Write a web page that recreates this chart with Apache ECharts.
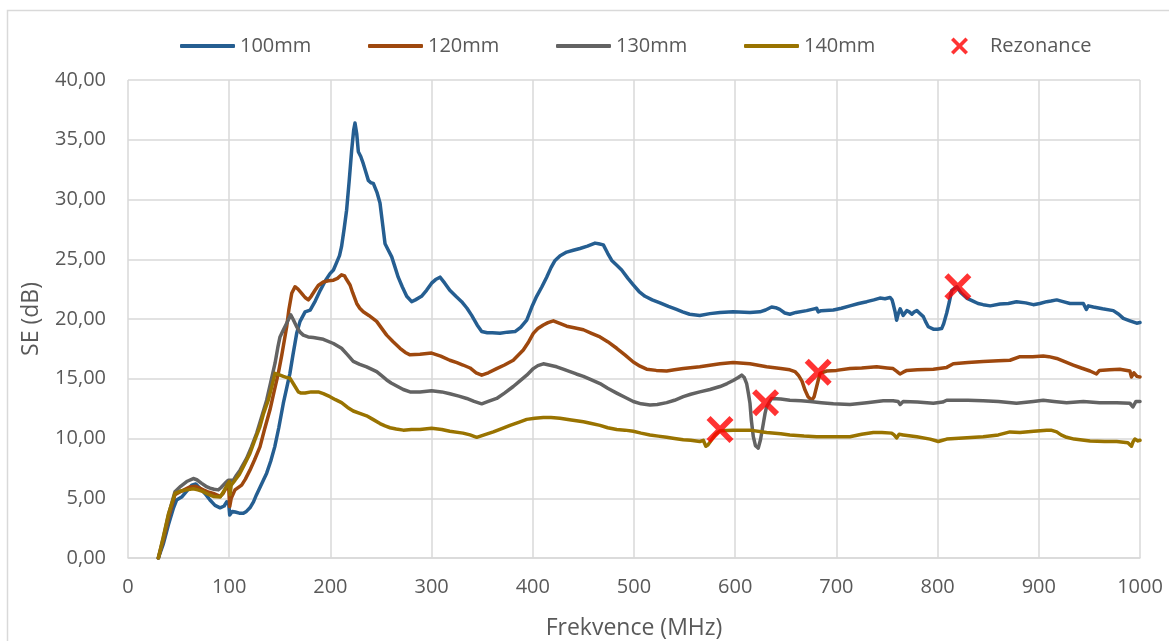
<!DOCTYPE html>
<html>
<head>
<meta charset="utf-8">
<script src="https://cdn.jsdelivr.net/npm/echarts@6/dist/echarts.min.js"></script>
<style>
  html, body { margin: 0; padding: 0; background: #ffffff; }
  #chart { width: 1169px; height: 641px; }
</style>
</head>
<body>
<div id="chart"></div>
<script>
// Shielding effectiveness SE (dB) vs frequency (MHz) for four enclosure sizes
const seriesNames = ['100mm', '120mm', '130mm', '140mm'];
const resonanceName = 'Rezonance';

const freq100 = [30,35,40,45,48,53,58,63,67,71,76,81,86,91,95,97.5,99.5,100.5,103,106,110,114,117,120.5,124,127,132,137,141,145,149,153.5,157,160,163,166.7,170,175,180,185,190,195,199.6,203,206,209,211,213.5,216,218.5,221,223,224.3,226,227.6,230,232.5,235,237.5,240,242.4,246,249,251.5,254,257,260.6,264,267,271,275.4,280.3,284,290,295,300,304,308.3,313,318,324,329.7,335,339.6,345,349.5,355,360,367.6,375,382.4,388,394,399,403.8,409,413.7,418,422,427,433.5,440,446.6,454,461.5,465,469.7,474,478,483,487.8,494,499.3,505,510.9,518,525.7,534,542,548,555,565,575,585,598,614.6,624.5,630,636,640,644,649,654,660,670.6,678,680.5,682,685,697,705,713.4,722,730,737,743,748,753,755,756,758,759.5,761,763,766,769.6,772,774.6,777,779.5,782,785.9,788,790.8,795.8,800,804,806,809,811.5,814,819,823,828.7,835,840,845,852,861.7,870,878,887,894.6,901,907.8,912,917.7,924,930.8,938,944,947,949,953.9,963,973.6,979,983.5,990,996.7,1000];
const se100 = [0,1.2,2.8,4.2,4.85,5.1,5.6,6.1,6.2,5.85,5.4,4.85,4.4,4.2,4.35,4.7,4.6,3.6,3.9,3.85,3.75,3.75,3.9,4.2,4.7,5.3,6.2,7.1,8.1,9.3,10.9,12.95,14.3,15.45,17,18.8,19.8,20.6,20.75,21.5,22.4,23.2,23.8,24.1,24.7,25.3,26.05,27.5,29.1,31.5,34.1,35.8,36.4,35.5,34.0,33.6,33.0,32.3,31.6,31.4,31.35,30.6,29.7,28.0,26.3,25.8,25.2,24.3,23.5,22.7,21.9,21.45,21.6,21.9,22.4,23.0,23.3,23.5,23.0,22.4,21.9,21.45,20.9,20.3,19.5,18.95,18.85,18.85,18.8,18.9,18.95,19.3,19.9,21.0,21.9,22.7,23.5,24.3,24.9,25.3,25.6,25.75,25.9,26.1,26.35,26.3,26.2,25.5,24.9,24.5,24.1,23.4,22.85,22.3,21.9,21.6,21.35,21.05,20.8,20.6,20.4,20.3,20.45,20.55,20.6,20.55,20.6,20.75,21.0,20.95,20.8,20.5,20.4,20.55,20.7,20.85,20.9,20.6,20.7,20.75,20.9,21.1,21.3,21.45,21.6,21.75,21.7,21.8,21.6,21.3,20.6,19.9,20.4,20.85,20.3,20.7,20.6,20.4,20.6,20.7,20.5,20.2,19.8,19.35,19.15,19.15,19.2,19.6,20.5,21.4,22.4,22.7,22.2,21.75,21.5,21.3,21.2,21.1,21.25,21.3,21.45,21.35,21.2,21.3,21.45,21.5,21.6,21.45,21.3,21.3,21.3,20.8,21.1,21.0,20.85,20.7,20.4,20.05,19.85,19.65,19.7];

const freq120 = [30,35,40,46.4,53,61.3,67,74.4,80,84.3,91,94,97.5,99.5,100.5,102,105.7,112.3,116,120.5,125,130.4,135,140.3,144,148.5,152,156.8,159,161.8,165,168,171.6,175,178.2,181,184.8,188,193,198,203,207,211,214,216,219.4,222,226,229,232.5,238,245.7,250,255.6,262,268.8,274,278.7,288.5,300,309,318,325,331,338,344,349.5,356,364.3,372,380.7,386,390.6,396,400.5,405,410.4,415,420.3,426,433.5,442,450,458,466.4,474,482.9,491,499.3,506,512.5,522,532.3,540,548.7,565,585,598,614.6,631,645,654,659,662.4,666,669,672,675.6,678,680.5,683.8,690.4,700,713.4,725,739.8,750,756,760,762.8,766,769.6,780,795.8,809,815.5,830,845,860,871.5,881.4,894,904.4,910,917.7,925,934,942,950.6,957,960,970,980,990,991.6,994,997,1000];
const se120 = [0,1.5,3.3,5.3,5.6,5.95,6.0,5.7,5.5,5.4,5.15,5.4,5.95,5.9,4.3,5.0,5.7,6.1,6.6,7.35,8.2,9.3,10.8,12.4,13.8,15.45,17.0,19.35,20.8,22.15,22.7,22.5,22.15,21.8,21.6,21.9,22.4,22.8,23.1,23.2,23.25,23.4,23.7,23.6,23.3,22.85,22.2,21.3,20.9,20.6,20.3,19.8,19.3,18.65,18.1,17.55,17.2,17.0,17.05,17.15,16.9,16.55,16.35,16.15,15.9,15.5,15.3,15.5,15.85,16.15,16.55,17.0,17.4,18.1,18.8,19.2,19.5,19.7,19.85,19.65,19.4,19.25,19.1,18.8,18.5,18.1,17.55,17.0,16.4,16.05,15.8,15.7,15.65,15.75,15.85,16.0,16.25,16.35,16.25,16.0,15.85,15.75,15.6,15.3,14.8,14.05,13.5,13.2,13.5,14.35,15.45,15.65,15.7,15.85,15.9,16.0,15.9,15.85,15.6,15.4,15.55,15.7,15.75,15.8,15.95,16.25,16.35,16.45,16.5,16.55,16.85,16.85,16.9,16.85,16.7,16.45,16.15,15.9,15.65,15.4,15.7,15.75,15.8,15.65,15.15,15.5,15.2,15.15];

const freq130 = [30,35,40,46.4,52,58,64.5,68,72.8,77,81,85,89.2,92,95.8,99,104,107,110.7,117.3,122,127.2,132,137,141,145.3,148,150.2,153,156.8,160.8,163,166.7,170,173.2,178,183.1,193,203,211,217,222.6,229,235.8,245.7,250,255.6,260,265.5,272,278.7,288.5,300,310,318,327,334.7,342,349.5,356,364.3,372,380.7,387,394,400.5,405,410.4,416,423.6,430,436.8,443,450,458,466.4,474,482.9,491,499.3,507,515.8,523,532.3,540,548.7,556,565,575,585,592,598,603,606.4,609,611.3,613,614.6,616,617.9,620,622.8,625,627.8,629.5,631,636,645,654,665,674,685,697,713.4,730,746.3,756,761,763,766,780,795.8,805,809,830,845,860,878,894.6,904.4,915,927.5,944,960,977,990,993,996,1000];
const se130 = [0,1.7,3.6,5.55,6.0,6.4,6.65,6.55,6.25,6.0,5.85,5.75,5.7,5.9,6.25,6.5,6.5,6.9,7.35,8.35,9.3,10.45,11.8,13.2,14.7,16.3,17.6,18.5,19.0,19.65,20.35,20.0,19.35,18.9,18.65,18.5,18.45,18.3,17.95,17.55,17.0,16.45,16.2,16.0,15.6,15.3,14.9,14.65,14.4,14.1,13.9,13.9,14.0,13.9,13.75,13.55,13.35,13.1,12.9,13.1,13.35,13.8,14.35,14.8,15.3,15.85,16.1,16.25,16.15,16.0,15.8,15.6,15.4,15.2,14.9,14.6,14.2,13.8,13.45,13.1,12.9,12.8,12.85,13.0,13.2,13.5,13.7,13.9,14.1,14.35,14.6,14.85,15.1,15.3,15.1,14.6,13.8,12.95,11.5,10.15,9.4,9.2,9.9,11.25,12.1,12.65,13.35,13.3,13.2,13.15,13.1,13.0,12.9,12.85,13.0,13.15,13.15,13.1,12.85,13.1,13.05,12.95,13.05,13.2,13.2,13.15,13.1,12.95,13.1,13.2,13.1,13.0,13.1,13.0,13.0,12.95,12.65,13.1,13.1];

const freq140 = [30,35,40,46.4,52,58,64.5,69,74.4,80,84.3,91,95.8,98.5,100.1,100.8,102,105.7,110,114,120.5,125,130.4,134,138.6,142,145.3,149,153.5,157,160,164,168.3,171,175,181,188,193,199.6,205,211,217,222.6,229,235.8,242,249,254,258.9,265,272,280,288.5,300,310,318,331,338,344.6,352,361,370,377.5,386,394,402,410.4,418,426.8,438,450,458,466.4,474,482.9,491,499.3,507,515.8,524,532.3,540,548.7,556,565,568.5,571,573,576.4,580,585,598,614.6,631,645,654,668,680.5,697,713.4,725,736.5,745,754.6,757,759.5,762,766,779.5,792.6,800.7,805,809,825,845,860,871.5,881.4,895,907.8,912,917.7,922,927.5,935,950.6,965,977,988,991.6,993,995,998,1000];
const se140 = [0,1.8,3.7,5.4,5.6,5.7,5.8,5.7,5.55,5.3,5.15,5.1,5.75,6.2,6.4,5.3,6.1,6.5,7.0,7.65,8.75,9.8,11.0,12.1,13.2,14.3,15.45,15.35,15.2,15.1,15.05,14.5,13.9,13.8,13.8,13.9,13.9,13.75,13.5,13.25,13.0,12.6,12.3,12.1,11.9,11.6,11.25,11.05,10.9,10.8,10.7,10.75,10.75,10.85,10.75,10.6,10.45,10.3,10.1,10.3,10.55,10.85,11.1,11.35,11.6,11.7,11.75,11.75,11.7,11.55,11.4,11.25,11.1,10.9,10.75,10.7,10.6,10.45,10.3,10.2,10.1,10.0,9.9,9.85,9.75,9.85,9.35,9.45,9.85,10.3,10.65,10.7,10.7,10.5,10.4,10.3,10.2,10.15,10.15,10.15,10.35,10.5,10.5,10.45,10.3,10.05,10.35,10.3,10.15,9.95,9.75,9.85,9.95,10.05,10.15,10.3,10.55,10.5,10.6,10.7,10.7,10.55,10.3,10.1,9.95,9.8,9.75,9.75,9.65,9.35,9.7,9.95,9.8,9.85];

// Resonance points marked with a cross
const rezFreq = [585, 630, 682, 820];
const rezSE = [10.75, 13.0, 15.55, 22.7];

// Axis ticks
const xTicks = { min: 0, max: 1000, step: 100 };
const yTicks = { min: 0, max: 40, step: 5 };

const seriesColors = ['#255E91', '#9E480E', '#636363', '#997300'];
const crossPath = 'path://M3,0 L10,7 L17,0 L20,3 L13,10 L20,17 L17,20 L10,13 L3,20 L0,17 L7,10 L0,3 Z';
const fontFamily = "'Open Sans', 'Noto Sans', sans-serif";
const textColor = '#595959';

function pairs(xs, ys) { return xs.map((x, i) => [x, ys[i]]); }

const lineData = [pairs(freq100, se100), pairs(freq120, se120), pairs(freq130, se130), pairs(freq140, se140)];

const legendLefts = [180, 368, 556, 744];
const legends = seriesNames.map((name, i) => ({
  data: [name],
  left: legendLefts[i],
  top: 36,
  padding: 0,
  icon: 'roundRect',
  itemWidth: 55,
  itemHeight: 4,
  selectedMode: false,
  textStyle: { fontFamily, fontSize: 20, color: textColor }
}));
legends.push({
  data: [resonanceName],
  left: 951,
  top: 36,
  padding: 0,
  icon: crossPath,
  itemWidth: 17,
  itemHeight: 17,
  selectedMode: false,
  textStyle: { fontFamily, fontSize: 20, color: textColor, padding: [0, 0, 0, 17] }
});

const chart = echarts.init(document.getElementById('chart'), null, { renderer: 'canvas' });
chart.setOption({
  backgroundColor: '#ffffff',
  animation: false,
  graphic: [{
    type: 'rect',
    shape: { x: 7.5, y: 10.5, width: 1300, height: 800 },
    style: { fill: 'none', stroke: '#d9d9d9', lineWidth: 1.5 },
    silent: true, z: -10
  }],
  legend: legends,
  grid: { left: 128, right: 29, top: 80, bottom: 83, containLabel: false, outerBoundsMode: 'none' },
  xAxis: {
    type: 'value',
    min: xTicks.min, max: xTicks.max, interval: xTicks.step,
    name: 'Frekvence (MHz)',
    nameLocation: 'middle',
    nameGap: 59,
    nameTextStyle: { fontFamily, fontSize: 23, color: textColor },
    axisLine: { show: true, lineStyle: { color: '#d9d9d9', width: 1.5 } },
    axisTick: { show: false },
    axisLabel: { fontFamily, fontSize: 20, color: textColor, margin: 19, formatter: v => String(v) },
    splitLine: { show: true, lineStyle: { color: '#d9d9d9', width: 1.5 } }
  },
  yAxis: {
    type: 'value',
    min: yTicks.min, max: yTicks.max, interval: yTicks.step,
    name: 'SE (dB)',
    nameLocation: 'middle',
    nameGap: 85,
    nameRotate: 90,
    nameTextStyle: { fontFamily, fontSize: 23, color: textColor },
    axisLine: { show: false },
    axisTick: { show: false },
    axisLabel: {
      fontFamily, fontSize: 20, color: textColor, margin: 22,
      formatter: v => v.toFixed(2).replace('.', ',')
    },
    splitLine: { show: true, lineStyle: { color: '#d9d9d9', width: 1.5 } }
  },
  series: seriesNames.map((name, i) => ({
    name,
    type: 'line',
    data: lineData[i],
    showSymbol: false,
    symbol: 'none',
    lineStyle: { color: seriesColors[i], width: 3.5, join: 'round', cap: 'round' },
    itemStyle: { color: seriesColors[i] },
    z: 2 + i * 0.01
  })).concat([{
    name: resonanceName,
    type: 'scatter',
    data: pairs(rezFreq, rezSE),
    symbol: crossPath,
    symbolSize: 27,
    itemStyle: { color: '#ff0000' },
    z: 5
  }])
});
</script>
</body>
</html>
